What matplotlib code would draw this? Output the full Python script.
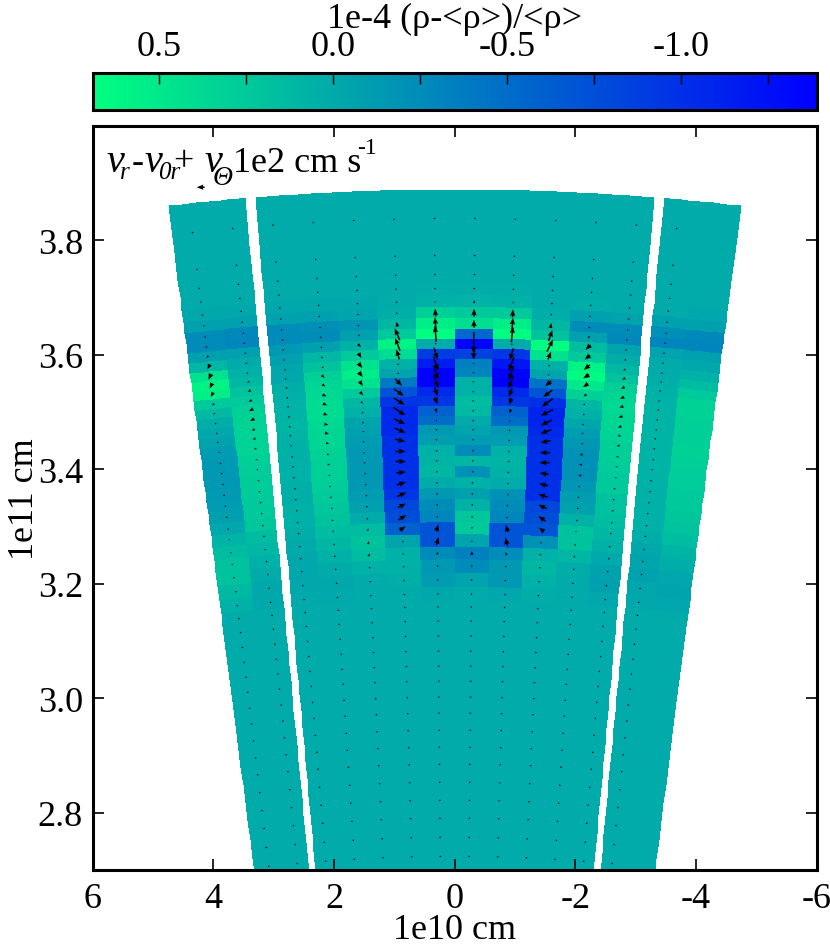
import numpy as np
import matplotlib
matplotlib.use('Agg')
import matplotlib.pyplot as plt

plt.rcParams['font.family'] = ['Liberation Serif', 'DejaVu Serif']
plt.rcParams['mathtext.fontset'] = 'stix'
fs = 26

# radial rows, top to bottom, 1e11 cm
radii = [3.8385, 3.7738, 3.7405, 3.716, 3.6933, 3.674, 3.6548, 3.6373, 3.6198, 3.6023,
         3.5848, 3.569, 3.5533, 3.5358, 3.52, 3.5025, 3.485, 3.4693, 3.4518, 3.4325,
         3.415, 3.3958, 3.3765, 3.3573, 3.338, 3.317, 3.298, 3.275, 3.254, 3.2313,
         3.2068, 3.1823, 3.1596, 3.1351, 3.1089, 3.0826, 3.0564, 3.0301, 3.0021, 2.9741,
         2.9444, 2.9146, 2.8849, 2.8534, 2.8219, 2.7904, 2.7571, 2.7239, 2.6889]
r_outer = 3.889
r_inner = 2.67

# column edges in degrees, left to right on the plot
theta_left = [7, 6, 5.13]
theta_mid = [4.87, 4, 3, 2, 1, 0, -1, -2, -3, -4, -4.87]
theta_right = [-5.13, -6, -7]
theta_centers = [6.5, 5.5, 4.5, 3.5, 2.5, 1.5, 0.5, -0.5, -1.5, -2.5, -3.5, -4.5, -5.5, -6.5]

# density contrast, rows 3..31 of radii, columns left to right
density_rows = [
    [0, 0, 0, 0, 0, 0, .02, .02, .02, 0, 0, 0, 0, 0],
    [-.02, -.02, -.02, -.02, -.02, 0, .05, .07, .05, 0, .02, 0, 0, -.03],
    [-.08, -.08, -.08, -.08, -.05, .02, .3, .25, .25, .02, -.08, -.05, -.08, -.08],
    [-.25, -.28, -.25, -.22, -.18, .1, .55, .42, .55, .1, -.25, -.25, -.22, -.28],
    [-.25, -.3, -.25, -.25, -.08, .25, .69, -.55, .69, .2, -.08, -.28, -.3, -.3],
    [-.08, -.08, -.14, -.08, .05, .6, 0, -1.35, 0, .69, .15, -.05, -.06, -.08],
    [.1, 0, -.08, .1, .25, .4, -.9, -.85, -.95, .45, .25, .02, 0, -.02],
    [.45, .05, -.04, .2, .45, .05, -1.15, -.35, -1.2, .05, .6, .1, 0, .05],
    [.6, .1, -.02, .3, .55, -.05, -1.39, -.3, -1.35, -.05, .65, .2, .03, .15],
    [.55, .2, .03, .35, .45, -.4, -1.39, .05, -1.39, -.45, .5, .3, .05, .25],
    [.25, .25, .05, .38, .25, -.7, -1.05, .05, -1.05, -.7, .3, .35, .07, .32],
    [.12, .3, .07, .4, .1, -.95, -.95, .15, -.95, -1, .1, .38, .08, .32],
    [.02, .32, .08, .4, .05, -1.05, -.6, .12, -.6, -1.1, .05, .35, .08, .3],
    [-.03, .33, .1, .38, -.05, -1.05, -.5, 0, -.5, -1.1, -.04, .35, .08, .3],
    [-.07, .33, .08, .35, -.08, -1.05, -.15, -.05, -.15, -1.05, -.12, .33, .08, .3],
    [-.12, .33, .06, .35, -.12, -1, -.1, -.12, -.1, -1, -.16, .3, .08, .32],
    [-.14, .3, .05, .32, -.14, -1, .05, -.25, .05, -1, -.2, .3, .08, .3],
    [-.15, .28, .05, .3, -.15, -1, .08, .1, .08, -1, -.2, .28, .08, .28],
    [-.15, .27, .05, .3, -.15, -1, .1, -.2, .05, -1, -.2, .25, .07, .28],
    [-.13, .27, .03, .28, -.14, -1, 0, .05, 0, -1, -.17, .25, .06, .25],
    [-.12, .25, .03, .25, -.12, -.95, -.15, -.08, -.2, -1, -.1, .2, .05, .25],
    [-.09, .25, .05, .22, -.08, -.8, -.25, .05, -.25, -.8, -.07, .18, .05, .22],
    [-.03, .22, .05, .2, 0, -.75, -.3, .22, -.3, -.75, .05, .15, .05, .2],
    [.08, .15, .02, .15, .15, -.6, -.7, .25, -.7, -.7, .2, .1, .02, .15],
    [.15, .1, 0, .1, .2, -.05, -.7, -.05, -.7, -.2, .2, .05, -.02, .08],
    [.2, .05, -.02, .05, .15, .05, -.25, -.35, -.25, .05, .1, -.01, -.05, .02],
    [.2, 0, -.03, 0, .05, .05, -.15, -.25, -.15, .1, .02, -.07, -.07, -.03],
    [.12, -.02, -.02, -.02, 0, .03, -.12, -.05, -.15, .05, 0, -.08, -.03, -.05],
    [.05, -.02, -.01, -.01, 0, 0, -.02, 0, -.03, .02, 0, -.03, -.02, -.03],
]
first_density_row = 3

# velocity arrows, columns 0..12, rows 4..31 of radii
u_c0 = [0, 0, 0, -1, -1.5, -2.5, -2.5, -2.5, -2.5, -1.5, 0, 0, 0, -1, -1.5, -2, -2, -2, -1.5, -1, 0, .3, 1, 1, 1, 0, 0, 0]
v_c0 = [0, 0, 0, -1, -2.5, -5, -6, -5.5, -4.5, -2.5, -1, 0, 0, 0, 1, 1, 1, 1, .5, .3, 0, -.5, -1.5, -1.5, -1.5, 0, 0, 0]
u_c1 = [0, 0, 0, 0, 0, 0, -1, -2, -3, -3, -4, -4, -3, -3, -2.5, -2, -2, -2, -1.5, -1.5, -1, -1, -.5, 0, 0, 0, 0, 0]
v_c1 = [0, 0, 0, 0, 0, 0, -1, -1.5, -2, -2, -2.5, -2.5, -1.5, -1, -.7, -.5, -.3, 0, 0, .3, .5, .5, .5, 0, 0, 0, 0, 0]
u_c2 = [0] * 28
v_c2 = [0] * 28
u_c3 = [0, 0, 0, 0, 0, 0, 1, 3, 3, 4, 4, 4, 4, 4, 3, 2.5, 2.5, 2, 2, 1.5, 1.5, 1, .5, 0, 0, 0, 0, 0]
v_c3 = [0, 0, 0, 0, 0, 0, -1, -2.5, -2, -1.5, -2, -1.5, -1, -1, -.7, -.5, 0, 0, .3, .3, .5, .5, .5, 0, 0, 0, 0, 0]
u_c4 = [0, 0, 0, 1, 3, 3, 4, 4, 3, 3, 2, 0, 0, 1, 2, 2, 2, 2, 2, 1, .5, 0, 1, 1, 1, .5, 0, 0]
v_c4 = [0, 0, 0, -2, -3, -5, -5, -5, -5, -3.5, -2, 0, 0, .5, .7, .7, .7, .7, .7, 1, 1, 1, 2.5, 3, 3, 1.5, 0, 0]
u_c5 = [0, 0, -1, -5, -5, -3, 0, 0, 7, 10, 11, 12, 11, 11, 10, 10, 10, 9, 9, 9, 8, 8, 6, 0, 0, 0, 0, 0]
v_c5 = [0, 0, 5, 12, 13, 10, 1, -1, -7, -7, -7, -8, -5, -5, -2.5, 0, 0, 1, 3, 4, 4, 5, 4, 0, 2, 1, 0, 0]
u_c6 = [0, -.5, -1, -1.5, 0, 3.5, 5, 5, 5, 3.5, 2.5, 1.5, .5, 0, 0, 0, 0, 0, 0, 0, 0, .5, 2, 2, 1, 0, 0, 0]
v_c6 = [2, 8, 13, 16, -1, -12, -14, -14, -13, -9, -7, -4, -2, 0, 0, 0, 0, 0, 0, 0, 0, 1, 7, 8, 3, 1, 0, 0]
u_c7 = [0] * 28
v_c7 = [3, 8, 8, -3, -20, -12, -2, 0, 0, 0, 0, 0, 0, 0, 0, 0, 0, 0, 0, 0, 0, 0, 0, 2, 4, 1, 0, 0]
u_c8 = [0, .5, 1, 1.5, 0, -3.5, -5, -5, -5, -3.5, -2.5, -1.5, -.5, 0, 0, 0, 0, 0, 0, 0, 0, -.5, -2, -2, -1, 0, 0, 0]
v_c8 = [2, 8, 13, 16, -1, -12, -14, -14, -13, -9, -7, -4, -2, 0, 0, 0, 0, 0, 0, 0, 0, 1, 7, 8, 3, 1, 0, 0]
u_c9 = [0, 0, 1, 4, 6, 3, 0, 0, -6, -9, -11, -12, -11, -11, -10, -10, -10, -9, -9, -9, -8, -7, -5, 0, 0, 0, 0, 0]
v_c9 = [0, 0, 5, 11, 12, 8, 1, 2, -5, -7, -8, -6, -5, -4, -2, 0, 0, 1, 2, 3, 4, 5, 4, 0, -1, 0, 0, 0]
u_c10 = [0, 0, 0, -1, -5, -5.5, -6, -6, -5, -3, -1, 0, 0, -1.5, -2, -3, -3, -3, -2, -1, 0, .5, 1, 1, 1, 0, 0, 0]
v_c10 = [0, 0, 0, -2.5, -5, -4.5, -5, -4, -3.5, -2, -1, 0, 0, .5, .5, 1, .5, .5, .5, 1, 1, 1, 1.5, 2, 2, 0, 0, 0]
u_c11 = [0, 0, 0, 0, 0, 0, -2, -3, -3.5, -4, -4, -4, -3.5, -3, -3, -2.5, -2, -2, -1.5, -1, -1, -1, -.5, -.5, 0, 0, 0, 0]
v_c11 = [0, 0, 0, 0, 0, 0, -1.5, -2, -2, -2, -1.5, -1.5, -1, -.5, -.5, 0, 0, .3, .5, .5, 1, 1, .5, .5, 0, 0, 0, 0]
u_c12 = [0] * 28
v_c12 = [0] * 28
first_arrow_row = 4

key_speed = 8
key_pos = (4.21, 3.893)

cbar_major = [0.5, 0.0, -0.5, -1.0]
cbar_minor = [0.25, -0.25, -0.75, -1.25]
x_ticks = [6, 4, 2, 0, -2, -4, -6]
y_ticks = [2.8, 3.0, 3.2, 3.4, 3.6, 3.8]

W, H = 830.0, 945.0
fig = plt.figure(figsize=(8.3, 9.45), dpi=100)
ax = fig.add_axes([92.7 / W, 1 - 871 / H, 724 / W, 744 / H])
cax = fig.add_axes([92.7 / W, 1 - 111 / H, 724 / W, 37 / H])

# cells, each column split in a few slices so the outer arc stays smooth
r = np.array(radii)
r_edges = np.concatenate(([r_outer], (r[:-1] + r[1:]) / 2, [r_inner]))
den = np.zeros((len(radii), 14))
den[first_density_row:first_density_row + len(density_rows)] = density_rows
n_sub = 6

for edges, c0, c1 in [(theta_left, 0, 2), (theta_mid, 2, 12), (theta_right, 12, 14)]:
    fine = np.interp(np.arange(0, len(edges) - 1 + 1e-9, 1 / n_sub), np.arange(len(edges)), edges)
    th = np.radians(fine)
    X = 10 * np.outer(r_edges, np.sin(th))
    Y = np.outer(r_edges, np.cos(th))
    mesh = ax.pcolormesh(X, Y, np.repeat(den[:, c0:c1], n_sub, axis=1), cmap='winter',
                         vmin=-1.39, vmax=0.69, shading='flat', linewidth=0, antialiased=False)

# arrows
u = np.zeros((len(radii), 13))
v = np.zeros((len(radii), 13))
u_cols = [u_c0, u_c1, u_c2, u_c3, u_c4, u_c5, u_c6, u_c7, u_c8, u_c9, u_c10, u_c11, u_c12]
v_cols = [v_c0, v_c1, v_c2, v_c3, v_c4, v_c5, v_c6, v_c7, v_c8, v_c9, v_c10, v_c11, v_c12]
u[first_arrow_row:first_arrow_row + 28] = np.column_stack(u_cols)
v[first_arrow_row:first_arrow_row + 28] = np.column_stack(v_cols)
thc = np.radians(theta_centers[:13])
QX = 10 * np.outer(r, np.sin(thc))
QY = np.outer(r, np.cos(thc))
qargs = dict(angles='uv', scale_units='inches', scale=100, pivot='mid', units='dots',
             width=1.5, headwidth=3.6, headlength=4.5, headaxislength=4, minlength=1.1,
             color='k', zorder=3)
ax.quiver(QX, QY, u, v, **qargs)
ax.quiver([key_pos[0]], [key_pos[1]], [-key_speed], [0], **qargs)

ax.set_xlim(6, -6)
ax.set_ylim(2.7, 4.0)
ax.set_xticks(x_ticks)
ax.set_xticklabels([str(t) for t in x_ticks])
ax.set_yticks(y_ticks)
ax.tick_params(direction='in', length=8, width=1.2, top=True, right=True, labelsize=fs, pad=9)
ax.tick_params(axis='y', pad=7)
for s in ax.spines.values():
    s.set_linewidth(2.2)
ax.set_xlabel('1e10 cm', fontsize=fs, labelpad=-2)
ax.set_ylabel('1e11 cm', fontsize=fs, labelpad=-2)

# velocity label piece by piece, the pieces sit tight in the original
base = 3.922
sub = 3.909
ax.text(5.77, base, 'v', fontsize=fs + 3, style='italic', ha='left', va='baseline')
ax.text(5.55, sub, 'r', fontsize=18, style='italic', ha='left', va='baseline')
ax.text(5.36, base, '-', fontsize=fs, ha='left', va='baseline')
ax.text(5.14, base, 'v', fontsize=fs + 3, style='italic', ha='left', va='baseline')
ax.text(4.92, sub, '0r', fontsize=18, style='italic', ha='left', va='baseline')
ax.text(4.67, base, '+', fontsize=fs, ha='left', va='baseline')
ax.text(4.15, base, 'v', fontsize=fs + 3, style='italic', ha='left', va='baseline')
ax.text(4.02, 3.899, 'Θ', fontsize=20, style='italic', ha='left', va='baseline')
ax.text(3.68, base, '1e2 cm s', fontsize=fs, ha='left', va='baseline')
ax.text(1.61, 3.952, '-1', fontsize=17, ha='left', va='baseline')

# colorbar
cb = fig.colorbar(mesh, cax=cax, orientation='horizontal')
cax.set_xlim(0.69, -1.39)
cax.xaxis.set_ticks_position('top')
cax.xaxis.set_label_position('top')
cax.set_xticks(cbar_major)
cax.set_xticklabels(['%.1f' % t for t in cbar_major])
cax.set_xticks(cbar_minor, minor=True)
cax.tick_params(which='both', direction='in', length=8, width=1.0, labelsize=fs, pad=7, bottom=False)
cb.outline.set_linewidth(2.2)
cax.set_xlabel('1e-4 (ρ-<ρ>)/<ρ>', fontsize=fs, labelpad=2)

fig.savefig('out.png', dpi=100)
